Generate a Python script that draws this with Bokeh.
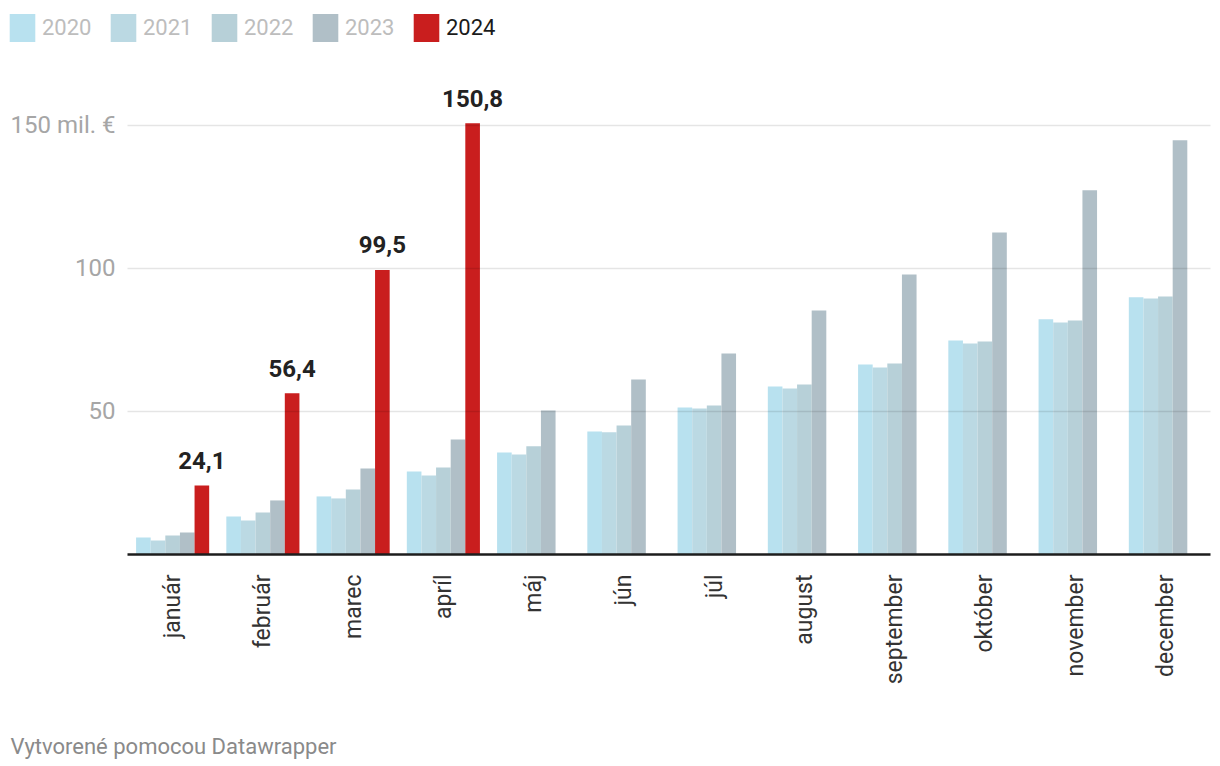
from bokeh.plotting import figure
from bokeh.models import (ColumnDataSource, FactorRange, FixedTicker, Legend, LegendItem,
                          Range1d)
from bokeh.layouts import column
from bokeh.transform import dodge
from bokeh.core.properties import value
from bokeh.embed import file_html
from bokeh.resources import INLINE
import math

months = ["január", "február", "marec", "apríl", "máj", "jún", "júl", "august",
          "september", "október", "november", "december"]
y2020 = [5.9, 13.3, 20.3, 29.0, 35.7, 43.0, 51.4, 58.7, 66.4, 74.8, 82.2, 89.9]
y2021 = [4.9, 11.9, 19.6, 27.6, 35.0, 42.7, 51.0, 58.0, 65.4, 73.8, 81.1, 89.5]
y2022 = [6.6, 14.7, 22.7, 30.4, 37.8, 45.1, 52.1, 59.4, 66.8, 74.5, 81.8, 90.2]
y2023 = [7.7, 18.9, 30.1, 40.2, 50.3, 61.2, 70.3, 85.3, 97.9, 112.6, 127.3, 144.8]
y2024 = [24.1, 56.4, 99.5, 150.8]
years = ["2020", "2021", "2022", "2023", "2024"]
colors = ["#b8e1ef", "#bbd9e3", "#b7d0d8", "#b0bfc7", "#c91e1e"]
y_ticks = [50, 100, 150]
y_tick_labels = ["50", "100", "150 mil. €"]
footer_text = "Vytvorené pomocou Datawrapper"

FONT = "Roboto"
nan = float("nan")
y2024_full = y2024 + [nan] * (len(months) - len(y2024))

src = ColumnDataSource(dict(month=months, y2020=y2020, y2021=y2021, y2022=y2022,
                            y2023=y2023, y2024=y2024_full))
lbl_src = ColumnDataSource(dict(month=months[:len(y2024)], y2024=y2024,
                                lbl=[f"{v:.1f}".replace(".", ",") for v in y2024]))

def strip(height):
    f = figure(width=1220, height=height, x_range=Range1d(0, 1220),
               y_range=Range1d(0, height), output_backend="svg", toolbar_location=None,
               min_border=0, x_axis_location=None, y_axis_location=None)
    f.grid.visible = False
    f.outline_line_color = None
    f.frame_align = False
    return f

# ---------- legend strip ----------
lf = strip(60)
legend_src = ColumnDataSource(dict(x=[nan], top=[nan]))
dummy = [lf.vbar(x="x", top="top", width=1, source=legend_src, fill_color=c,
                 line_color=None) for c in colors]

def make_legend(items, color, x):
    return Legend(items=items, orientation="horizontal", location=(x, 15),
                  glyph_width=32, glyph_height=35, label_standoff=4, label_width=65,
                  spacing=0, padding=0, margin=0, border_line_alpha=0,
                  background_fill_alpha=0, label_text_font=FONT,
                  label_text_font_size="22px", label_text_color=color,
                  label_height=28)

lf.add_layout(make_legend([LegendItem(label=years[i], renderers=[dummy[i]]) for i in range(4)],
                          "#bdbdbd", 6))
lf.add_layout(make_legend([LegendItem(label=years[4], renderers=[dummy[4]])], "#1a1a1a", 410))

# ---------- main chart ----------
p = figure(width=1220, height=650, x_range=FactorRange(*months, range_padding=0),
           y_range=Range1d(0, 172.7), output_backend="svg", toolbar_location=None,
           min_border_left=127, min_border_right=10, min_border_top=0,
           min_border_bottom=156)
p.outline_line_color = None
p.frame_align = False

bw = 0.162
for i, (yr, col) in enumerate(zip(years, colors)):
    p.vbar(x=dodge("month", (i - 2) * bw, range=p.x_range), top="y" + yr,
           width=bw, source=src, fill_color=col, line_color=None)

p.text(x=dodge("month", 2 * bw, range=p.x_range), y="y2024", text="lbl",
       source=lbl_src, text_align="center", text_baseline="alphabetic",
       y_offset=-25, text_font=value(FONT), text_font_style="bold",
       text_font_size="24px", text_color="#222222")

p.xgrid.grid_line_color = None
p.ygrid.ticker = FixedTicker(ticks=y_ticks)
p.ygrid.grid_line_color = "black"
p.ygrid.grid_line_alpha = 0.1
p.ygrid.grid_line_width = 1.5
p.ygrid.level = "overlay"

p.yaxis.ticker = FixedTicker(ticks=y_ticks)
p.yaxis.major_label_overrides = {t: s for t, s in zip(y_ticks, y_tick_labels)}
p.yaxis.axis_line_color = None
p.yaxis.major_tick_line_color = None
p.yaxis.minor_tick_line_color = None
p.yaxis.major_label_standoff = 6
p.yaxis.major_label_text_font = FONT
p.yaxis.major_label_text_font_size = "24px"
p.yaxis.major_label_text_color = "#a6a6a6"

p.xaxis.major_label_orientation = math.pi / 2
p.xaxis.axis_line_color = "#1d1d1d"
p.xaxis.axis_line_width = 2.5
p.xaxis.major_tick_line_color = None
p.xaxis.minor_tick_line_color = None
p.xaxis.major_label_standoff = 14
p.xaxis.major_label_text_font = FONT
p.xaxis.major_label_text_font_size = "23px"
p.xaxis.major_label_text_color = "#333333"

# ---------- footer strip ----------
ff = strip(56)
ff.text(x=[10], y=[20], text=[footer_text], text_font=value(FONT),
        text_font_size="22px", text_color="#8a8a8a", text_baseline="alphabetic")

layout = column(lf, p, ff, spacing=0)
open("out.html", "w").write(file_html(layout, INLINE))
